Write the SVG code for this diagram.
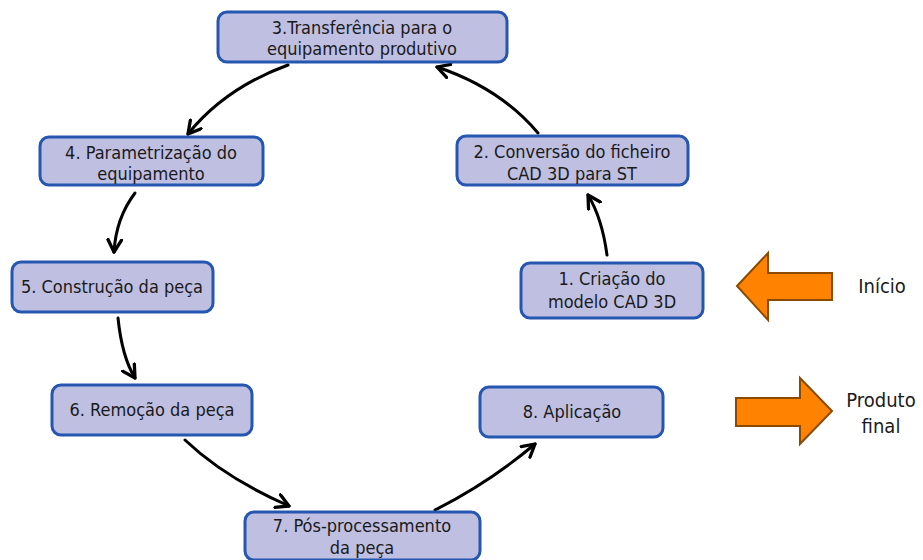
<svg xmlns="http://www.w3.org/2000/svg" width="923" height="560" viewBox="0 0 923 560">
  <style>
    .box { fill: #bfbfe2; stroke: #2556b0; stroke-width: 3; }
    .lbl { font-family: "DejaVu Sans Condensed", "Liberation Sans", sans-serif; font-size: 18px; fill: #1a1a1a; text-anchor: middle; }
    .side { font-family: "DejaVu Sans Condensed", "Liberation Sans", sans-serif; font-size: 20px; fill: #1a1a1a; text-anchor: middle; }
    .conn { fill: none; stroke: #000; stroke-width: 3; stroke-linecap: round; marker-end: url(#head); }
    .big { fill: #ff8200; stroke: #8a4a00; stroke-width: 2; stroke-linejoin: miter; }
  </style>
  <defs>
    <marker id="head" viewBox="0 0 12 12" refX="10" refY="6" markerWidth="5.5" markerHeight="5.5" orient="auto" markerUnits="strokeWidth">
      <path d="M1,1 L10,6 L1,11" fill="none" stroke="#000" stroke-width="2.4" stroke-linecap="round" stroke-linejoin="round"/>
    </marker>
  </defs>
  <rect width="923" height="560" fill="#fff"/>

  <g id="connectors">
    <path class="conn" d="M288,65 Q225,88 188,134"/>
    <path class="conn" d="M538,133 Q500,88 437,67"/>
    <path class="conn" d="M135,193 Q116,218 114,252"/>
    <path class="conn" d="M607,255 Q602,218 588,195"/>
    <path class="conn" d="M118,318 Q122,357 135,378"/>
    <path class="conn" d="M185,440 Q225,478 289,506"/>
    <path class="conn" d="M435,510 Q490,482 535,444"/>
  </g>

  <g id="n1">
    <rect class="box" x="521" y="263" width="182" height="55" rx="9"/>
    <text class="lbl" x="612" y="285">1. Criação do</text>
    <text class="lbl" x="612" y="308">modelo CAD 3D</text>
  </g>
  <g id="n2">
    <rect class="box" x="457" y="136" width="231" height="49" rx="9"/>
    <text class="lbl" x="572" y="158">2. Conversão do ficheiro</text>
    <text class="lbl" x="572" y="180">CAD 3D para ST</text>
  </g>
  <g id="n3">
    <rect class="box" x="218" y="12" width="289" height="50" rx="9"/>
    <text class="lbl" x="362" y="34">3.Transferência para o</text>
    <text class="lbl" x="362" y="55">equipamento produtivo</text>
  </g>
  <g id="n4">
    <rect class="box" x="40" y="137" width="223" height="48" rx="9"/>
    <text class="lbl" x="151" y="159">4. Parametrização do</text>
    <text class="lbl" x="151" y="180">equipamento</text>
  </g>
  <g id="n5">
    <rect class="box" x="12" y="262" width="201" height="50" rx="9"/>
    <text class="lbl" x="112" y="293">5. Construção da peça</text>
  </g>
  <g id="n6">
    <rect class="box" x="52" y="385" width="200" height="50" rx="9"/>
    <text class="lbl" x="152" y="416">6. Remoção da peça</text>
  </g>
  <g id="n7">
    <rect class="box" x="245" y="512" width="235" height="48" rx="9"/>
    <text class="lbl" x="362" y="532">7. Pós-processamento</text>
    <text class="lbl" x="362" y="554">da peça</text>
  </g>
  <g id="n8">
    <rect class="box" x="480" y="387" width="183" height="50" rx="9"/>
    <text class="lbl" x="572" y="418">8. Aplicação</text>
  </g>

  <g id="inicio">
    <polygon class="big" points="737,286 768,253 768,273 832,273 832,300 768,300 768,320"/>
    <text class="side" x="882" y="293">Início</text>
  </g>
  <g id="produto-final">
    <polygon class="big" points="736,398 800,398 800,378 832,411 800,444 800,426 736,426"/>
    <text class="side" x="881" y="407">Produto</text>
    <text class="side" x="881" y="433">final</text>
  </g>
</svg>
